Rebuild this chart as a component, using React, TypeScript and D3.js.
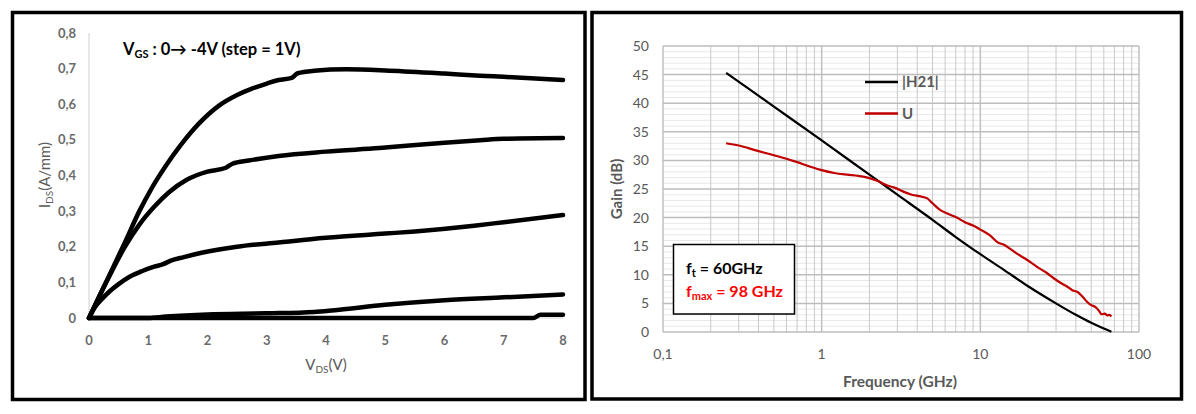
import React from "react";
import * as d3 from "d3";

// ---------- Left panel data (I-V curves) ----------
const vgsLabels = ["0V", "-1V", "-2V", "-3V", "-4V"];
const ivVgs0: [number, number][] = [
  [0, 0], [0.3, 0.105], [0.6, 0.21], [0.85, 0.3], [1.05, 0.362], [1.3, 0.428], [1.55, 0.486],
  [1.85, 0.545], [2.2, 0.597], [2.5, 0.626], [2.75, 0.644], [3, 0.658], [3.2, 0.668], [3.42, 0.674],
  [3.52, 0.687], [3.8, 0.694], [4.35, 0.698], [5, 0.695], [6, 0.686], [6.6, 0.68], [7, 0.677], [8, 0.668],
];
const ivVgs1: [number, number][] = [
  [0, 0], [0.3, 0.103], [0.6, 0.198], [0.85, 0.262], [1.1, 0.312], [1.35, 0.353], [1.65, 0.388], [2, 0.411],
  [2.3, 0.421], [2.42, 0.433], [2.7, 0.442], [3.2, 0.455], [4, 0.467], [4.9, 0.477], [6, 0.492],
  [6.6, 0.499], [7, 0.503], [8, 0.505],
];
const ivVgs2: [number, number][] = [
  [0, 0], [0.1, 0.03], [0.2, 0.05], [0.35, 0.075], [0.5, 0.095], [0.7, 0.117], [0.9, 0.132], [1.1, 0.144],
  [1.25, 0.151], [1.38, 0.161], [1.6, 0.171], [1.9, 0.183], [2.5, 0.2], [3.2, 0.212], [4, 0.225],
  [5, 0.237], [5.5, 0.243], [6.5, 0.259], [7, 0.269], [8, 0.289],
];
const ivVgs3: [number, number][] = [
  [0, 0], [1, 0], [1.3, 0.004], [2, 0.01], [3, 0.013], [3.8, 0.017], [4.1, 0.021], [5, 0.037],
  [6, 0.05], [7, 0.058], [8, 0.066],
];
const ivVgs4: [number, number][] = [
  [0, 0], [7.5, 0], [7.62, 0.009], [8, 0.009],
];
const ivSeries = [ivVgs0, ivVgs1, ivVgs2, ivVgs3, ivVgs4];
const ivXTicks = [0, 1, 2, 3, 4, 5, 6, 7, 8];
const ivYTicks = [0, 0.1, 0.2, 0.3, 0.4, 0.5, 0.6, 0.7, 0.8];

// ---------- Right panel data (gain vs frequency) ----------
const h21: [number, number][] = [
  [0.25, 45.3], [0.5, 39.4], [1, 33.5], [2, 27.5], [3, 24], [5, 19.6], [7, 16.6], [10, 13.6],
  [14, 10.9], [20, 8], [30, 5], [40, 3], [50, 1.6], [60, 0.6], [67, 0.05],
];
const gainU: [number, number][] = [
  [0.25, 33], [0.3, 32.6], [0.39, 31.7], [0.5, 30.9], [0.6, 30.3], [0.7, 29.7], [0.85, 28.9], [1, 28.3],
  [1.2, 27.8], [1.45, 27.5], [1.7, 27.3], [2, 26.9], [2.3, 26.3], [2.6, 25.6], [2.9, 25.2], [3.3, 24.5],
  [3.7, 24], [4.2, 23.7], [4.6, 23.4], [5, 22.5], [5.6, 21.3], [6.2, 20.7], [7, 20.1], [8, 19.2],
  [9, 18.6], [10, 17.9], [11.5, 16.9], [13, 15.6], [14, 15.3], [15.5, 14.5], [17, 13.7], [19, 12.9],
  [21, 12.1], [23, 11.3], [26, 10.4], [29, 9.4], [32, 8.6], [35, 8], [38, 7.3], [41, 7], [44, 6.2],
  [47, 5.3], [50, 4.7], [53, 4.4], [56, 3.7], [58, 3.1], [61, 3.2], [63, 2.9], [65, 3], [67, 2.7],
];
const gainYTicks = [0, 5, 10, 15, 20, 25, 30, 35, 40, 45, 50];
const freqTicks = [0.1, 1, 10, 100];
const freqTickLabels = ["0,1", "1", "10", "100"];
const legendLabels = ["|H21|", "U"];

const FONT = "Lato, 'Open Sans', 'DejaVu Sans', sans-serif";
const GRAY = "#595959";

export default function App() {
  // Left scales
  const xL = d3.scaleLinear().domain([0, 8]).range([89, 563]);
  const yL = d3.scaleLinear().domain([0, 0.8]).range([318, 33]);
  const lineL = d3
    .line<[number, number]>()
    .x((d) => xL(d[0]))
    .y((d) => yL(d[1]))
    .curve(d3.curveMonotoneX);

  // Right scales
  const xR = d3.scaleLog().domain([0.1, 100]).range([663, 1139]);
  const yR = d3.scaleLinear().domain([0, 50]).range([332, 46]);
  const lineR = d3
    .line<[number, number]>()
    .x((d) => xR(d[0]))
    .y((d) => yR(d[1]))
    .curve(d3.curveMonotoneX);

  const minorV: number[] = [];
  for (const dec of [0.1, 1, 10]) for (let k = 2; k <= 9; k++) minorV.push(dec * k);
  const minorH = d3.range(0, 51, 1).filter((v) => v % 5 !== 0);

  const fmt = (v: number) => (v === 0 ? "0" : d3.format(".1f")(v).replace(".", ","));

  return (
    <svg
      width={1196}
      height={414}
      style={{ position: "absolute", left: 0, top: 0, background: "#fff" }}
      fontFamily={FONT}
    >
      {/* ---------- LEFT PANEL ---------- */}
      <rect x={12.5} y={12.5} width={572.5} height={387} fill="#fff" stroke="#000" strokeWidth={3.5} />
      <line x1={xL(0)} x2={xL(0)} y1={yL(0.8)} y2={yL(0)} stroke="#d0d0d0" strokeWidth={1} />
      <line x1={xL(0)} x2={xL(8)} y1={yL(0)} y2={yL(0)} stroke="#d0d0d0" strokeWidth={1} />
      {ivYTicks.map((t) => (
        <text key={"ly" + t} x={76} y={yL(t)} dy="0.35em" textAnchor="end" fontSize={13} fontWeight="bold" fill="#6b6b6b">
          {fmt(t)}
        </text>
      ))}
      {ivXTicks.map((t) => (
        <text key={"lx" + t} x={xL(t)} y={340} dy="0.35em" textAnchor="middle" fontSize={13} fontWeight="bold" fill="#6b6b6b">
          {t}
        </text>
      ))}
      {ivSeries.map((s, i) => (
        <path
          key={vgsLabels[i]}
          d={lineL(s) || ""}
          fill="none"
          stroke="#000"
          strokeWidth={4.5}
          strokeLinejoin="round"
          strokeLinecap="round"
        />
      ))}
      <text x={123} y={55} fontSize={16.5} fontWeight="bold" fill="#000">
        V<tspan fontSize={11} dy={3}>GS</tspan>
        <tspan dy={-3}> : 0</tspan>
        <tspan>{"\u2192"}</tspan>
        <tspan> -4V (step = 1V)</tspan>
      </text>
      <text
        transform={`translate(50,175) rotate(-90)`}
        textAnchor="middle"
        fontSize={15}
        fill={GRAY}
      >
        I<tspan fontSize={10} dy={3}>DS</tspan>
        <tspan dy={-3}>(A/mm)</tspan>
      </text>
      <text x={326} y={370} textAnchor="middle" fontSize={15} fill={GRAY}>
        V<tspan fontSize={10} dy={3}>DS</tspan>
        <tspan dy={-3}>(V)</tspan>
      </text>

      {/* ---------- RIGHT PANEL ---------- */}
      <rect x={592} y={12.5} width={589.5} height={386.5} fill="#fff" stroke="#000" strokeWidth={3.5} />
      {minorH.map((v) => (
        <line key={"mh" + v} x1={xR(0.1)} x2={xR(100)} y1={yR(v)} y2={yR(v)} stroke="#e8e8e8" strokeWidth={1} />
      ))}
      {minorV.map((v) => (
        <line key={"mv" + v} x1={xR(v)} x2={xR(v)} y1={yR(50)} y2={yR(0)} stroke="#c9c9c9" strokeWidth={1} />
      ))}
      {freqTicks.map((v) => (
        <line key={"Mv" + v} x1={xR(v)} x2={xR(v)} y1={yR(50)} y2={yR(0)} stroke="#c0c0c0" strokeWidth={1.5} />
      ))}
      {gainYTicks.map((v) => (
        <line key={"Mh" + v} x1={xR(0.1)} x2={xR(100)} y1={yR(v)} y2={yR(v)} stroke="#bdbdbd" strokeWidth={1.5} />
      ))}
      {gainYTicks.map((v) => (
        <text key={"ry" + v} x={649} y={yR(v)} dy="0.35em" textAnchor="end" fontSize={14} fill={GRAY}>
          {v}
        </text>
      ))}
      {freqTicks.map((v, i) => (
        <text key={"rx" + v} x={xR(v)} y={354} dy="0.35em" textAnchor="middle" fontSize={14} fill={GRAY}>
          {freqTickLabels[i]}
        </text>
      ))}
      <path d={lineR(h21) || ""} fill="none" stroke="#000" strokeWidth={2.2} />
      <path d={lineR(gainU) || ""} fill="none" stroke="#c00000" strokeWidth={2.2} />

      {/* legend */}
      <line x1={865} x2={898} y1={82} y2={82} stroke="#000" strokeWidth={2.5} />
      <text x={902} y={82} dy="0.35em" fontSize={15} fontWeight="bold" fill={GRAY}>
        {legendLabels[0]}
      </text>
      <line x1={865} x2={898} y1={113.5} y2={113.5} stroke="#c00000" strokeWidth={2.5} />
      <text x={902} y={113.5} dy="0.35em" fontSize={15} fontWeight="bold" fill={GRAY}>
        {legendLabels[1]}
      </text>

      {/* annotation box */}
      <rect x={673.5} y={244.5} width={121} height={69.5} fill="#fff" stroke="#000" strokeWidth={1.5} />
      <text x={686} y={274} fontSize={16} fontWeight="bold" fill="#000">
        f<tspan fontSize={11} dy={3}>t</tspan>
        <tspan dy={-3}> = 60GHz</tspan>
      </text>
      <text x={686} y={297} fontSize={16} fontWeight="bold" fill="#ff0000">
        f<tspan fontSize={11} dy={3}>max</tspan>
        <tspan dy={-3}> = 98 GHz</tspan>
      </text>

      <text
        transform={`translate(622,189) rotate(-90)`}
        textAnchor="middle"
        fontSize={15}
        fontWeight="bold"
        fill={GRAY}
      >
        Gain (dB)
      </text>
      <text x={900} y={382} dy="0.35em" textAnchor="middle" fontSize={15.5} fontWeight="bold" fill={GRAY}>
        Frequency (GHz)
      </text>
    </svg>
  );
}
